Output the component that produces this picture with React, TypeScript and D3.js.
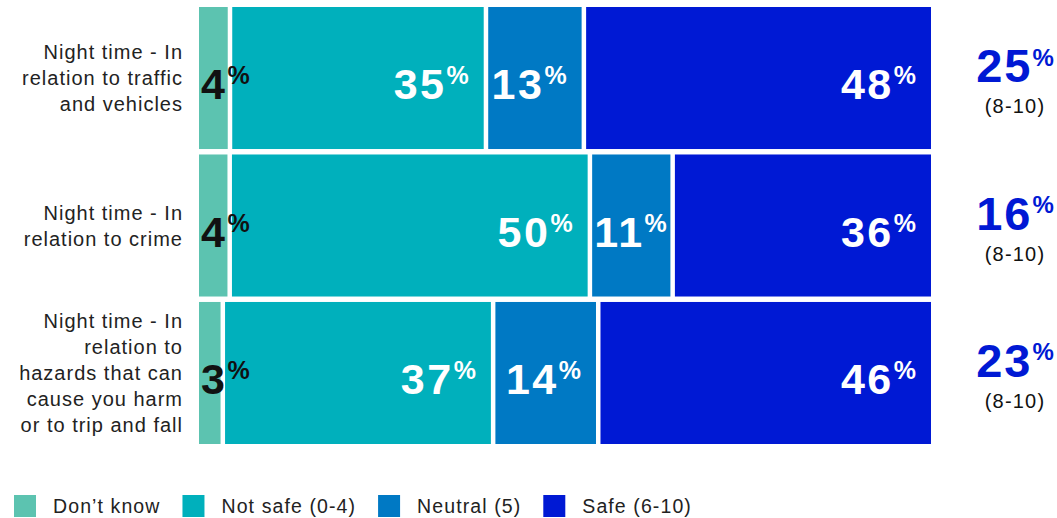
import React, { useEffect, useRef } from "react";
import * as d3 from "d3";

const categoryLines: string[][] = [
  ["Night time - In", "relation to traffic", "and vehicles"],
  ["Night time - In", "relation to crime"],
  ["Night time - In", "relation to", "hazards that can", "cause you harm", "or to trip and fall"],
];
const seriesNames = ["Don’t know", "Not safe (0-4)", "Neutral (5)", "Safe (6-10)"];
const dontKnow = [4, 4, 3];
const notSafe = [35, 50, 37];
const neutral = [13, 11, 14];
const safe = [48, 36, 46];
const topBox = [25, 16, 23];
const topBoxLabel = "(8-10)";

const colors = ["#5cc3b0", "#00b0bc", "#0079c4", "#0019d4"];
const labelColors = ["#111111", "#ffffff", "#ffffff", "#ffffff"];
const FONT = "'Liberation Sans', Arial, sans-serif";

export default function App() {
  const ref = useRef<SVGSVGElement | null>(null);

  useEffect(() => {
    const svg = d3.select(ref.current);
    svg.selectAll("*").remove();

    const W = 1057, H = 518;
    const barX0 = 199, barX1 = 931, gapX = 4.5;
    const rowIdx = categoryLines.map((_, i) => i);
    const y = d3.scaleBand<number>().domain(rowIdx).range([7, 444]).paddingInner(0.037).paddingOuter(0);

    const series = [dontKnow, notSafe, neutral, safe];
    const barLayer = svg.append("g");
    const labelLayer = svg.append("g");

    rowIdx.forEach((r) => {
      const vals = series.map((s) => s[r]);
      const total = d3.sum(vals);
      const k = d3.scaleLinear().domain([0, total]).range([0, barX1 - barX0 - gapX * (vals.length - 1)]);
      const by = y(r)!;
      const bh = y.bandwidth();
      const cy = by + bh / 2;
      let cum = 0;
      vals.forEach((v, i) => {
        const xs = barX0 + k(cum) + i * gapX;
        const xe = xs + k(v);
        cum += v;
        barLayer.append("rect")
          .attr("x", xs)
          .attr("y", by)
          .attr("width", xe - xs)
          .attr("height", bh)
          .attr("fill", colors[i]);
        const t = labelLayer.append("text")
          .attr("y", cy + 21)
          .attr("font-family", FONT)
          .attr("font-weight", "bold")
          .attr("fill", labelColors[i]);
        t.append("tspan").attr("font-size", 43).attr("letter-spacing", "2.5px").text(String(v));
        t.append("tspan").attr("font-size", 25).attr("letter-spacing", "0px").attr("dx", 0).attr("dy", -15).text("%");
        const w = (t.node() as SVGTextElement).getComputedTextLength();
        const tx = Math.max(xs + 2, xe - 15 - w);
        t.attr("x", tx);
      });

      // left category label
      const lines = categoryLines[r];
      const lh = 26;
      const startY = cy - ((lines.length - 1) * lh) / 2 + 7;
      const lt = svg.append("text")
        .attr("font-family", FONT)
        .attr("font-size", 20)
        .attr("letter-spacing", "1px")
        .attr("fill", "#222222")
        .attr("text-anchor", "end");
      lines.forEach((ln, li) => {
        lt.append("tspan").attr("x", 183).attr("y", startY + li * lh).text(ln);
      });

      // right summary
      const rt = svg.append("text")
        .attr("x", 1015)
        .attr("y", cy + 4)
        .attr("text-anchor", "middle")
        .attr("font-family", FONT)
        .attr("font-weight", "bold")
        .attr("fill", colors[3]);
      rt.append("tspan").attr("font-size", 47).attr("letter-spacing", "2px").text(String(topBox[r]));
      rt.append("tspan").attr("font-size", 24).attr("letter-spacing", "0px").attr("dx", 0).attr("dy", -16.5).text("%");
      svg.append("text")
        .attr("x", 1015)
        .attr("y", cy + 35)
        .attr("text-anchor", "middle")
        .attr("font-family", FONT)
        .attr("font-size", 20)
        .attr("letter-spacing", "1.2px")
        .attr("fill", "#111111")
        .text(topBoxLabel);
    });

    // legend
    let lx = 14;
    const ly = 495;
    seriesNames.forEach((name, i) => {
      svg.append("rect").attr("x", lx).attr("y", ly).attr("width", 22).attr("height", 22).attr("fill", colors[i]);
      const t = svg.append("text")
        .attr("x", lx + 39)
        .attr("y", ly + 18)
        .attr("font-family", FONT)
        .attr("font-size", 19.5)
        .attr("letter-spacing", "1.1px")
        .attr("fill", "#222222")
        .text(name);
      const w = (t.node() as SVGTextElement).getComputedTextLength();
      lx = lx + 39 + w + 22;
    });

    svg.attr("width", W).attr("height", H);
  }, []);

  return (
    <svg
      ref={ref}
      width={1057}
      height={518}
      style={{ position: "absolute", left: 0, top: 0, display: "block", background: "#ffffff" }}
    />
  );
}
